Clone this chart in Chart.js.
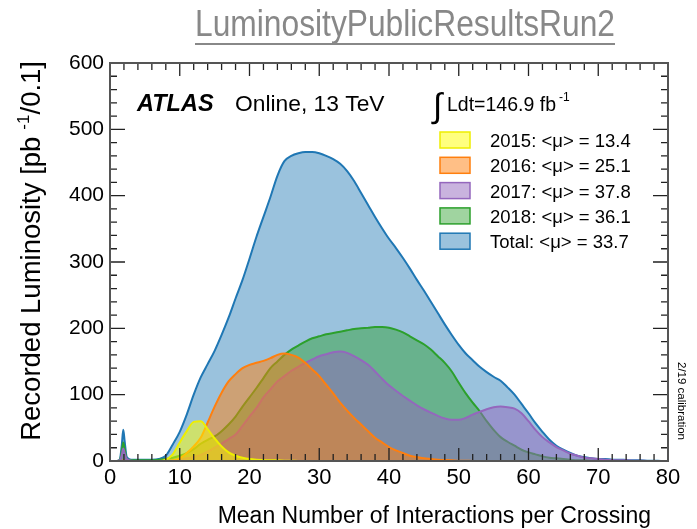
<!DOCTYPE html>
<html>
<head>
<meta charset="utf-8">
<script src="https://cdn.jsdelivr.net/npm/chart.js@4.4.1/dist/chart.umd.min.js"></script>
<style>
  html, body { margin: 0; padding: 0; background: #fff; }
  canvas { display: block; }
</style>
</head>
<body>
<canvas id="lumi" width="697" height="529"></canvas>
<script>
// mean number of interactions per crossing (bin centres)
const mu = [0, 1, 1.4, 1.7, 1.9, 2.1, 2.4, 3,
  4, 5, 6, 7, 8, 9, 10, 11, 12, 13,
  14, 15, 16, 17, 18, 19, 20, 21, 22, 23,
  24, 25, 26, 27, 28, 29, 30, 31, 32, 33,
  34, 35, 36, 37, 38, 39, 40, 41, 42, 43,
  44, 45, 46, 47, 48, 49, 50, 51, 52, 53,
  54, 55, 56, 57, 58, 59, 60, 61, 62, 63,
  64, 65, 66, 67, 68, 69, 70, 71, 72, 73,
  74, 75, 76, 77, 78, 79, 80];

// recorded luminosity [pb^-1 / 0.1]
const lumiTotal = [0, 0, 2, 25, 47, 30, 6, 2,
  2, 2, 2, 3, 8, 25, 44, 70, 100, 126,
  146, 166, 190, 216, 245, 273, 305, 338, 368, 398,
  430, 452, 460, 464, 466, 466, 464, 460, 455, 448,
  437, 422, 404, 386, 368, 351, 335, 321, 306, 290,
  273, 257, 240, 223, 206, 190, 175, 162, 152, 142,
  134, 127, 121, 111, 100, 86, 72, 57, 44, 32,
  23, 17, 12, 8, 6, 4, 3, 3, 2, 2,
  1.5, 1, 1, 0.5, 0.5, 0, 0];

const lumi2015 = [0, 0, 0, 0, 0, 0, 0, 0,
  0, 0, 0, 0, 2, 10, 28, 45, 59, 60,
  48, 34, 22, 13, 8, 5, 3, 2, 1.5, 1,
  1, 0.5, 0.5, 0, 0, 0, 0, 0, 0, 0,
  0, 0, 0, 0, 0, 0, 0, 0, 0, 0,
  0, 0, 0, 0, 0, 0, 0, 0, 0, 0,
  0, 0, 0, 0, 0, 0, 0, 0, 0, 0,
  0, 0, 0, 0, 0, 0, 0, 0, 0, 0,
  0, 0, 0, 0, 0, 0, 0];

const lumi2016 = [0, 0, 0, 0, 1, 0, 0, 0,
  0, 0, 0, 0, 0, 1, 4, 12, 22, 35,
  58, 82, 103, 120, 131, 140, 145, 148, 151, 155,
  160, 162, 160, 156, 148, 138, 128, 115, 102, 88,
  76, 65, 55, 45, 35, 28, 21, 16, 12, 8,
  6, 4, 3, 2, 1.5, 1, 0.5, 0.5, 0, 0,
  0, 0, 0, 0, 0, 0, 0, 0, 0, 0,
  0, 0, 0, 0, 0, 0, 0, 0, 0, 0,
  0, 0, 0, 0, 0, 0, 0];

const lumi2017 = [0, 0, 1, 10, 19, 12, 3, 0.5,
  0, 0, 0, 0, 0.5, 1, 2, 4, 6, 9,
  14, 20, 26, 33, 40, 53, 67, 80, 96, 108,
  120, 128, 136, 142, 148, 153, 158, 161, 164, 165,
  163, 158, 152, 145, 135, 124, 114, 106, 98, 91,
  84, 78, 73, 68, 64, 62, 62, 65, 70, 74,
  78, 81, 82, 81, 79, 72, 60, 47, 36, 28,
  21, 16, 11, 8, 5, 4, 3, 2, 1.5, 1,
  1, 0.5, 0.5, 0, 0, 0, 0];

const lumi2018 = [0, 0, 1, 15, 28, 18, 3, 1,
  1, 1, 1, 2, 3, 5, 8, 12, 18, 26,
  32, 37, 45, 55, 67, 82, 96, 110, 125, 140,
  150, 160, 168, 174, 180, 185, 188, 191, 193, 195,
  197, 199, 200, 201, 202, 202, 201, 198, 194, 188,
  182, 176, 168, 158, 148, 135, 118, 102, 88, 75,
  60, 47, 36, 29, 23, 17, 13, 10, 7, 5,
  4, 3, 2, 1, 1, 0.5, 0, 0, 0, 0,
  0, 0, 0, 0, 0, 0, 0];

const legendLabels = ['2015: <\u03bc> = 13.4', '2016: <\u03bc> = 25.1', '2017: <\u03bc> = 37.8',
  '2018: <\u03bc> = 36.1', 'Total: <\u03bc> = 33.7'];

const FONT = "'Liberation Sans', Arial, Helvetica, sans-serif";

// line colour, fill colour
const colYellow = ['#eeee00', 'rgba(255,255,0,0.5)'];
const colOrange = ['#ff7f0e', 'rgba(255,127,14,0.5)'];
const colPurple = ['#9467bd', 'rgba(148,103,189,0.5)'];
const colGreen = ['#2ca02c', 'rgba(44,160,44,0.45)'];
const colBlue = ['#1f77b4', 'rgba(31,119,180,0.45)'];

function series(label, vals, col, order) {
  return {
    label: label,
    data: mu.map((m, i) => ({ x: m, y: vals[i] })),
    borderColor: col[0],
    backgroundColor: col[1],
    borderWidth: 2,
    fill: 'origin',
    pointRadius: 0,
    cubicInterpolationMode: 'monotone',
    order: order
  };
}

// inward ticks, frame and all the text inside the pad
const atlasDecor = {
  id: 'atlasDecor',
  afterDatasetsDraw(chart) {
    const { ctx, chartArea: a, scales: { x, y } } = chart;
    ctx.save();
    ctx.strokeStyle = '#222';
    ctx.lineWidth = 1.3;
    ctx.beginPath();
    for (let v = 0; v <= 80; v += 2) {
      const px = x.getPixelForValue(v);
      const len = v % 10 === 0 ? 13 : 7;
      ctx.moveTo(px, a.bottom); ctx.lineTo(px, a.bottom - len);
      ctx.moveTo(px, a.top); ctx.lineTo(px, a.top + len);
    }
    for (let v = 0; v <= 600; v += 20) {
      const py = y.getPixelForValue(v);
      const len = v % 100 === 0 ? 15 : 7;
      ctx.moveTo(a.left, py); ctx.lineTo(a.left + len, py);
      ctx.moveTo(a.right, py); ctx.lineTo(a.right - len, py);
    }
    ctx.stroke();
    ctx.strokeStyle = '#555';
    ctx.lineWidth = 2;
    ctx.strokeRect(a.left, a.top, a.right - a.left, a.bottom - a.top);
    ctx.restore();
  },
  afterDraw(chart) {
    const ctx = chart.ctx;
    ctx.save();
    ctx.fillStyle = '#000';
    ctx.textBaseline = 'alphabetic';

    // page title, condensed to the width it has in the picture
    ctx.font = '37px ' + FONT;
    ctx.fillStyle = '#888';
    ctx.textAlign = 'left';
    const t = 'LuminosityPublicResultsRun2';
    const sx = 420 / ctx.measureText(t).width;
    ctx.save();
    ctx.translate(195, 36);
    ctx.scale(sx, 1);
    ctx.fillText(t, 0, 0);
    ctx.restore();
    ctx.fillRect(195, 43, 420, 2);

    ctx.fillStyle = '#000';
    ctx.font = 'italic bold 23.5px ' + FONT;
    ctx.fillText('ATLAS', 137, 111);
    ctx.font = '22.8px ' + FONT;
    ctx.fillText('Online, 13 TeV', 235, 111);

    // integrated luminosity
    ctx.font = '34px ' + FONT;
    ctx.fillText('\u222b', 433, 117);
    ctx.font = '19.5px ' + FONT;
    ctx.fillText('Ldt=146.9 fb', 447, 111);
    const lw = ctx.measureText('Ldt=146.9 fb').width;
    ctx.font = '12px ' + FONT;
    ctx.fillText('-1', 447 + lw + 3, 101);

    // legend
    const cols = [colYellow, colOrange, colPurple, colGreen, colBlue];
    ctx.font = '18.5px ' + FONT;
    legendLabels.forEach((lab, i) => {
      const top = 132 + i * 25.3;
      ctx.fillStyle = cols[i][1];
      ctx.fillRect(440, top, 30, 16);
      ctx.strokeStyle = cols[i][0];
      ctx.lineWidth = 1.5;
      ctx.strokeRect(440, top, 30, 16);
      ctx.fillStyle = '#000';
      ctx.fillText(lab, 490, top + 15);
    });

    // axis titles
    ctx.font = '23px ' + FONT;
    ctx.textAlign = 'right';
    ctx.fillText('Mean Number of Interactions per Crossing', 651, 523);

    ctx.save();
    ctx.translate(40, 61);
    ctx.rotate(-Math.PI / 2);
    ctx.textAlign = 'left';
    const big = '27.5px ' + FONT, small = '17px ' + FONT;
    ctx.font = big;
    const p1 = 'Recorded Luminosity [pb', p3 = '/0.1]';
    const w1 = ctx.measureText(p1).width, w3 = ctx.measureText(p3).width;
    ctx.font = small;
    const p2 = '-1';
    const w2 = ctx.measureText(p2).width;
    const W = w1 + 7 + w2 + w3;
    ctx.font = big;
    ctx.fillText(p1, -W, 0);
    ctx.fillText(p3, -w3, 0);
    ctx.font = small;
    ctx.fillText(p2, -w3 - w2, -11);
    ctx.restore();

    ctx.save();
    ctx.translate(678, 362);
    ctx.rotate(Math.PI / 2);
    ctx.textAlign = 'left';
    ctx.font = '11.5px ' + FONT;
    ctx.fillText('2/19 calibration', 0, 0);
    ctx.restore();

    ctx.restore();
  }
};

new Chart(document.getElementById('lumi').getContext('2d'), {
  type: 'line',
  data: {
    datasets: [
      series('Total', lumiTotal, colBlue, 10),
      series('2018', lumi2018, colGreen, 4),
      series('2017', lumi2017, colPurple, 3),
      series('2016', lumi2016, colOrange, 2),
      series('2015', lumi2015, colYellow, 1)
    ]
  },
  options: {
    responsive: false,
    animation: false,
    devicePixelRatio: 1,
    layout: { padding: { top: 63, right: 29, left: 0, bottom: 0 } },
    scales: {
      x: {
        type: 'linear',
        min: 0,
        max: 80,
        ticks: { stepSize: 10, color: '#000', font: { size: 22, family: FONT }, padding: 4, maxRotation: 0, autoSkip: false },
        grid: { display: false, drawTicks: false },
        border: { display: false },
        afterFit(s) { s.height = 68; }
      },
      y: {
        type: 'linear',
        min: 0,
        max: 600,
        ticks: { stepSize: 100, color: '#000', font: { size: 21, family: FONT }, padding: 6 },
        grid: { display: false, drawTicks: false },
        border: { display: false },
        afterFit(s) { s.width = 110; }
      }
    },
    plugins: {
      legend: { display: false },
      tooltip: { enabled: false }
    }
  },
  plugins: [atlasDecor]
});
</script>
</body>
</html>
